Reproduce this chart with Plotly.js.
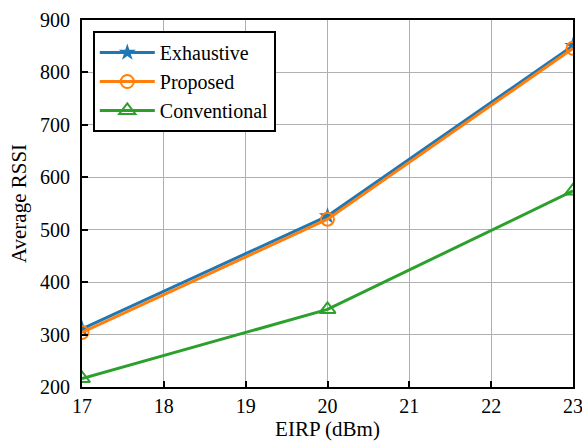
<!DOCTYPE html>
<html>
<head>
<meta charset="utf-8">
<script src="https://cdn.plot.ly/plotly-3.0.1.min.js"></script>
<style>html,body{margin:0;padding:0;background:#fff;}#chart{width:582px;height:441px;}</style>
</head>
<body>
<div id="chart"></div>
<script>
const eirp = [17, 20, 23];
const exhaustive = [311, 526, 851];
const proposed = [304, 520, 846];
const conventional = [216, 348, 574];
const seriesNames = ['Exhaustive', 'Proposed', 'Conventional'];

const traces = [
  {x: eirp, y: exhaustive, name: seriesNames[0], mode: 'lines+markers',
   line: {color: '#1f77b4', width: 3},
   marker: {symbol: 'star', size: 13, color: '#1f77b4'}},
  {x: eirp, y: proposed, name: seriesNames[1], mode: 'lines+markers',
   line: {color: '#ff7f0e', width: 3},
   marker: {symbol: 'circle-open', size: 13, color: '#ff7f0e', line: {width: 2, color: '#ff7f0e'}}},
  {x: eirp, y: conventional, name: seriesNames[2], mode: 'lines+markers',
   line: {color: '#2ca02c', width: 3},
   marker: {symbol: 'triangle-up-open', size: 14, color: '#2ca02c', line: {width: 2, color: '#2ca02c'}}}
];

const fam = '"Liberation Serif", "Times New Roman", serif';
const layout = {
  width: 582, height: 441,
  margin: {l: 82, r: 9, t: 20, b: 54},
  paper_bgcolor: '#fff', plot_bgcolor: '#fff',
  font: {family: fam, size: 20, color: '#000'},
  showlegend: true,
  legend: {x: 0.022, y: 0.97, xanchor: 'left', yanchor: 'top',
           bordercolor: '#000', borderwidth: 2, bgcolor: '#fff',
           font: {family: fam, size: 20, color: '#000'},
           itemwidth: 55, tracegroupgap: 0},
  xaxis: {
    range: [17, 23], tickvals: [17,18,19,20,21,22,23],
    showgrid: true, gridcolor: '#b0b0b0', gridwidth: 1,
    showline: true, linecolor: '#000', linewidth: 2, mirror: true,
    ticks: 'inside', ticklen: 6, tickwidth: 2, tickcolor: '#000',
    tickfont: {family: fam, size: 20}, ticklabeloverflow: 'allow',
    zeroline: false,
    title: {text: 'EIRP (dBm)', font: {family: fam, size: 21}, standoff: 6}
  },
  yaxis: {
    range: [200, 900], tickvals: [200,300,400,500,600,700,800,900],
    showgrid: true, gridcolor: '#b0b0b0', gridwidth: 1,
    showline: true, linecolor: '#000', linewidth: 2, mirror: true,
    ticks: 'inside', ticklen: 6, tickwidth: 2, tickcolor: '#000',
    tickfont: {family: fam, size: 20}, ticklabelstandoff: 6, ticklabeloverflow: 'allow',
    zeroline: false,
    title: {text: 'Average RSSI', font: {family: fam, size: 21}, standoff: 8}
  }
};
Plotly.newPlot('chart', traces, layout, {displayModeBar: false, staticPlot: true});
</script>
</body>
</html>
